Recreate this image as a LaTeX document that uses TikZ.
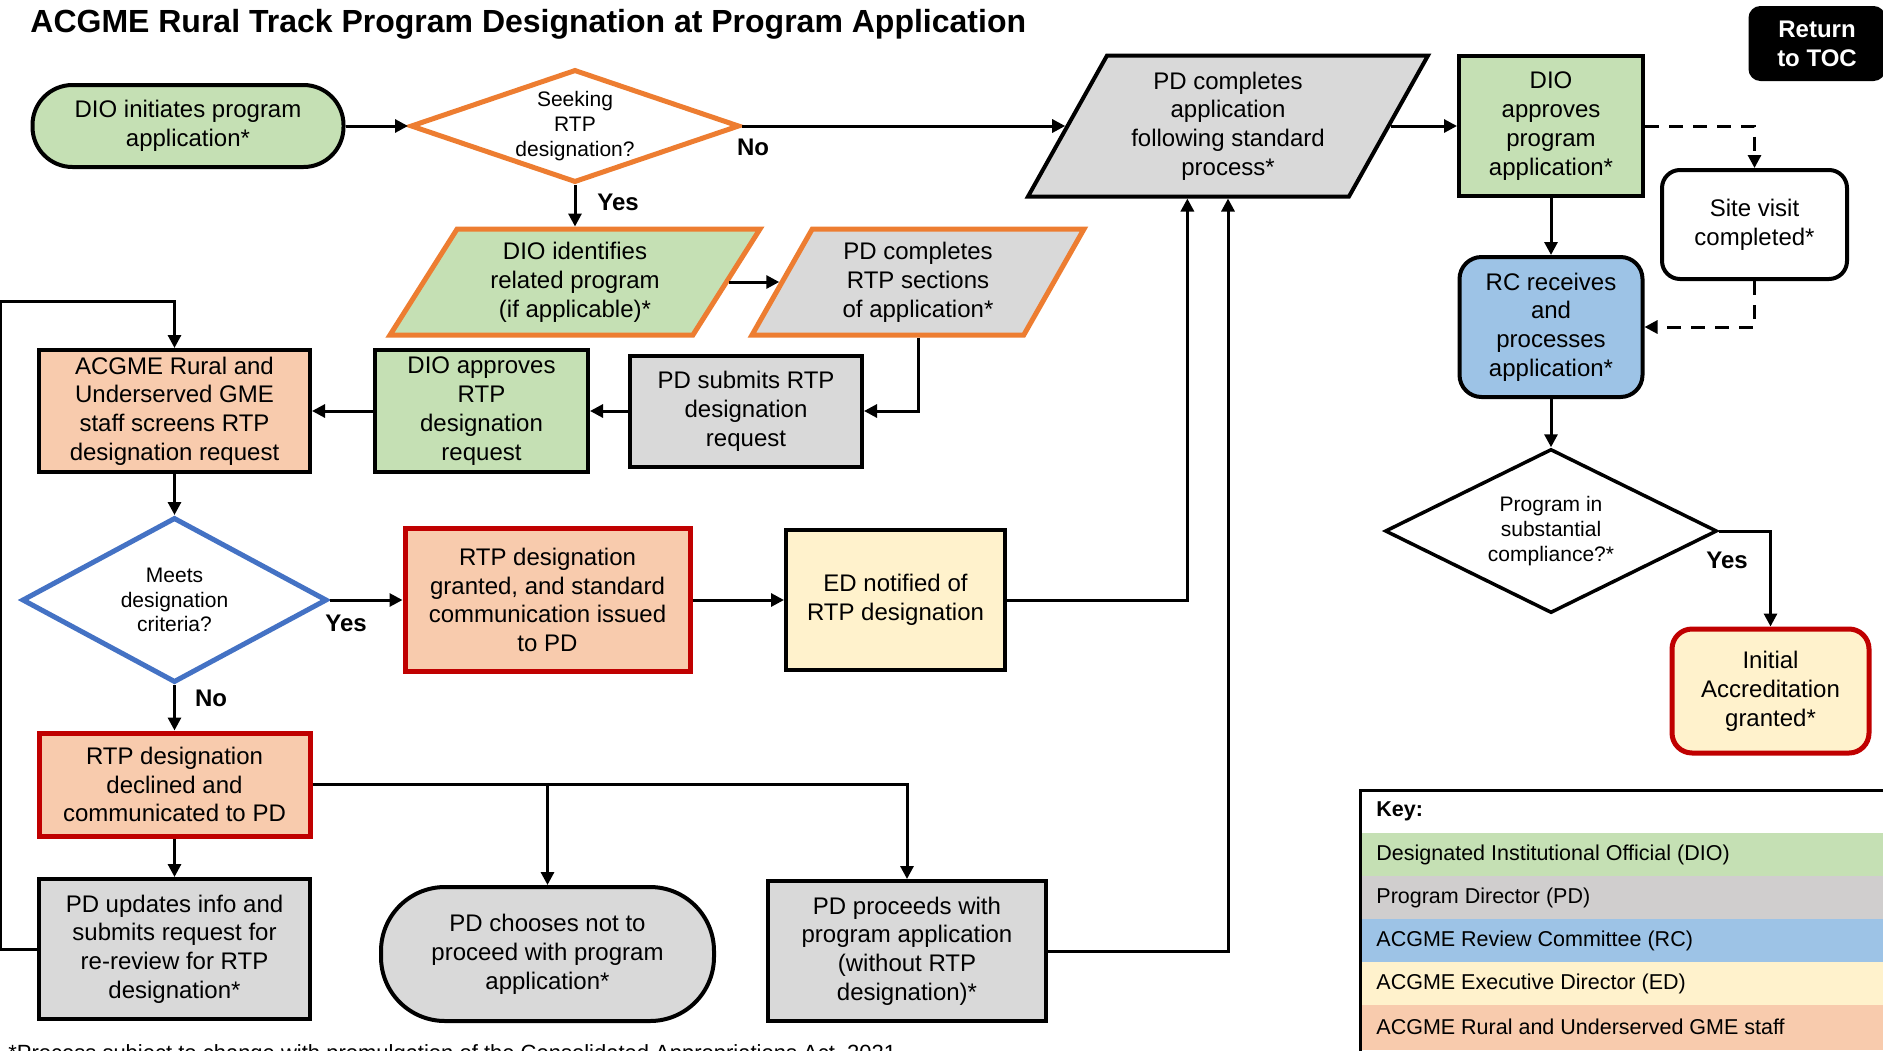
\documentclass[tikz,border=0pt]{standalone}
\usepackage{fontspec}
\setmainfont{Liberation Sans}
\usetikzlibrary{shapes.geometric,arrows.meta}

\definecolor{dioG}{HTML}{C5E0B4}
\definecolor{pdG}{HTML}{D9D9D9}
\definecolor{keyG}{HTML}{D0CECE}
\definecolor{rcB}{HTML}{9DC3E6}
\definecolor{edY}{HTML}{FFF2CC}
\definecolor{staffP}{HTML}{F8CBAD}
\definecolor{rtpO}{HTML}{ED7D31}
\definecolor{rtpR}{HTML}{C00000}
\definecolor{critB}{HTML}{4472C4}

\newcommand{\boxfont}{\fontsize{12pt}{14.4pt}\selectfont}
\newcommand{\askfont}{\fontsize{10.5pt}{12.3pt}\selectfont}
\newcommand{\keyfont}{\fontsize{10.75pt}{13pt}\selectfont}

\begin{document}
\begin{tikzpicture}
	[x=0.5pt, y=-0.5pt,
	proc/.style={draw, line width=2pt, align=center, font=\boxfont, inner sep=0pt},
	slant/.style={proc, trapezium, trapezium stretches body},
	ask/.style={diamond, draw, align=center, font=\askfont, inner sep=0pt},
	flow/.style={line width=1.5pt, -{Triangle[length=6.5pt,width=6.5pt]}},
	hint/.style={flow, dash pattern=on 7pt off 5pt},
	yn/.style={font=\boxfont\bfseries}]
	\useasboundingbox (0,0) rectangle (1883,1050);
	\node[anchor=base west, inner sep=0pt, font=\fontsize{16pt}{19pt}\selectfont\bfseries] (title) at (30,32) {ACGME Rural Track Program Designation at Program Application};
	% top row
	\node[proc, fill=dioG, rounded corners=20pt, minimum width=155.5pt, minimum height=41pt] (start) at (188,126) {DIO initiates program\\application*};
	\node[ask, draw=rtpO, line width=2.5pt, shape aspect=2.9, minimum width=164.5pt, minimum height=56.5pt] (seek) at (575,126) {Seeking\\RTP\\designation?};
	\node[slant, fill=pdG, trapezium left angle=54, trapezium right angle=126, minimum width=200pt, minimum height=70.5pt] (pdstd) at (1228,126) {PD completes\\application\\following standard\\process*};
	\node[proc, fill=dioG, minimum width=92pt, minimum height=70pt] (dioapp) at (1551,126) {DIO\\approves\\program\\application*};
	\node[proc, fill=black, text=white, font=\boxfont\bfseries, rounded corners=5pt, minimum width=66.5pt, minimum height=35.5pt] (toc) at (1817,43.5) {Return\\to TOC};
	\node[proc, rounded corners=9pt, minimum width=92.5pt, minimum height=54.5pt] (site) at (1754.5,224.5) {Site visit\\completed*};
	\node[proc, fill=rcB, rounded corners=11pt, minimum width=91.5pt, minimum height=70pt] (rc) at (1551,327) {RC receives\\and\\processes\\application*};
	\node[ask, line width=1.75pt, shape aspect=2, minimum width=166pt, minimum height=82pt] (comply) at (1551,531) {Program in\\substantial\\compliance?*};
	\node[proc, fill=edY, draw=rtpR, line width=2.5pt, rounded corners=10pt, minimum width=98.5pt, minimum height=62pt] (initacc) at (1770.5,691) {Initial\\Accreditation\\granted*};
	% rtp branch
	\node[slant, fill=dioG, draw=rtpO, line width=2.5pt, trapezium left angle=50, trapezium right angle=130, minimum width=185pt, minimum height=53pt] (dioid) at (575,282) {DIO identifies\\related program\\(if applicable)*};
	\node[slant, fill=pdG, draw=rtpO, line width=2.5pt, trapezium left angle=53, trapezium right angle=127, minimum width=166pt, minimum height=53pt] (pdrtp) at (918,282) {PD completes\\RTP sections\\of application*};
	\node[proc, fill=pdG, minimum width=116pt, minimum height=55.5pt] (pdsub) at (746,411) {PD submits RTP\\designation\\request};
	\node[proc, fill=dioG, minimum width=106.5pt, minimum height=61pt] (diortp) at (481.5,411) {DIO approves\\RTP\\designation\\request};
	\node[proc, fill=staffP, minimum width=135.5pt, minimum height=61pt] (screen) at (174.5,411) {ACGME Rural and\\Underserved GME\\staff screens RTP\\designation request};
	\node[ask, draw=critB, line width=2.5pt, shape aspect=1.85, minimum width=152.5pt, minimum height=82.5pt] (meets) at (174.5,600) {Meets\\designation\\criteria?};
	\node[proc, fill=staffP, draw=rtpR, line width=2.5pt, minimum width=142.5pt, minimum height=71.5pt] (granted) at (547.5,600) {RTP designation\\granted, and standard\\communication issued\\to PD};
	\node[proc, fill=edY, minimum width=109.5pt, minimum height=70pt] (ednot) at (895.5,600) {ED notified of\\RTP designation};
	\node[proc, fill=staffP, draw=rtpR, line width=2.5pt, minimum width=135.5pt, minimum height=51.5pt] (declined) at (174.5,784.5) {RTP designation\\declined and\\communicated to PD};
	% bottom row
	\node[proc, fill=pdG, minimum width=135.5pt, minimum height=70pt] (update) at (174.5,949) {PD updates info and\\submits request for\\re-review for RTP\\designation*};
	\node[proc, fill=pdG, rounded corners=32pt, minimum width=166.5pt, minimum height=67pt] (chooses) at (547.5,954) {PD chooses not to\\proceed with program\\application*};
	\node[proc, fill=pdG, minimum width=139pt, minimum height=70pt] (proceed) at (907,951) {PD proceeds with\\program application\\(without RTP\\designation)*};
	% yes / no
	\node[yn] (noA) at (753,147) {No};
	\node[yn] (yesA) at (618,202) {Yes};
	\node[yn] (yesB) at (346,623) {Yes};
	\node[yn] (noB) at (211,698) {No};
	\node[yn] (yesC) at (1727,560) {Yes};
	% key
	\node[anchor=west, inner sep=0pt, font=\keyfont\bfseries] (key) at (1376,811.5) {Key:};
	\foreach \c/\t [count=\i] in {dioG/Designated Institutional Official (DIO), keyG/Program Director (PD), rcB/ACGME Review Committee (RC), edY/ACGME Executive Director (ED), staffP/ACGME Rural and Underserved GME staff}{
		\fill[\c] (1360,{790+43*\i}) rectangle (1890,{835+43*\i});
		\node[anchor=west, inner sep=0pt, font=\keyfont] (key\i) at (1376,{811.5+43*\i}) {\t};
	}
	\draw[line width=1.5pt] (1890,790) -- (1360,790) -- (1360,1060);
	\node[anchor=base west, inner sep=0pt, font=\fontsize{11pt}{13pt}\selectfont] (note) at (8,1060) {*Process subject to change with promulgation of the Consolidated Appropriations Act, 2021};
	% main line
	\draw[flow] (start) -- (seek);
	\draw[flow] (seek) -- (pdstd.left side);
	\draw[flow] (pdstd.right side) -- (dioapp);
	\draw[flow] (dioapp) -- (rc);
	\draw[flow] (rc) -- (comply);
	\draw[flow] (comply.east) -| (initacc.north);
	\draw[hint] (dioapp.east) -| (site.north);
	\draw[hint] (site.south) |- (rc.east);
	% rtp
	\draw[flow] (seek) -- (seek.south |- dioid.top side);
	\draw[flow] (dioid.right side) -- (pdrtp.left side);
	\draw[flow] (pdrtp.center |- pdrtp.bottom side) |- (pdsub.east);
	\draw[flow] (pdsub) -- (diortp);
	\draw[flow] (diortp) -- (screen);
	\draw[flow] (screen) -- (meets);
	\draw[flow] (meets) -- (granted);
	\draw[flow] (granted) -- (ednot);
	\draw[flow] (ednot.east) -| (pdstd.bottom side);
	\draw[flow] (proceed.east) -| (pdstd.center |- pdstd.bottom side);
	\draw[flow] (meets) -- (declined);
	\draw[flow] (declined) -- (update);
	\draw[flow] (declined.east) -| (proceed.north);
	\draw[flow] (declined.east -| chooses.north) -- (chooses.north);
	% back to screening
	\draw[flow] (update.west) -- ++(-37,0) |- ([yshift=23.5pt]screen.north) -- (screen.north);
\end{tikzpicture}
\end{document}
